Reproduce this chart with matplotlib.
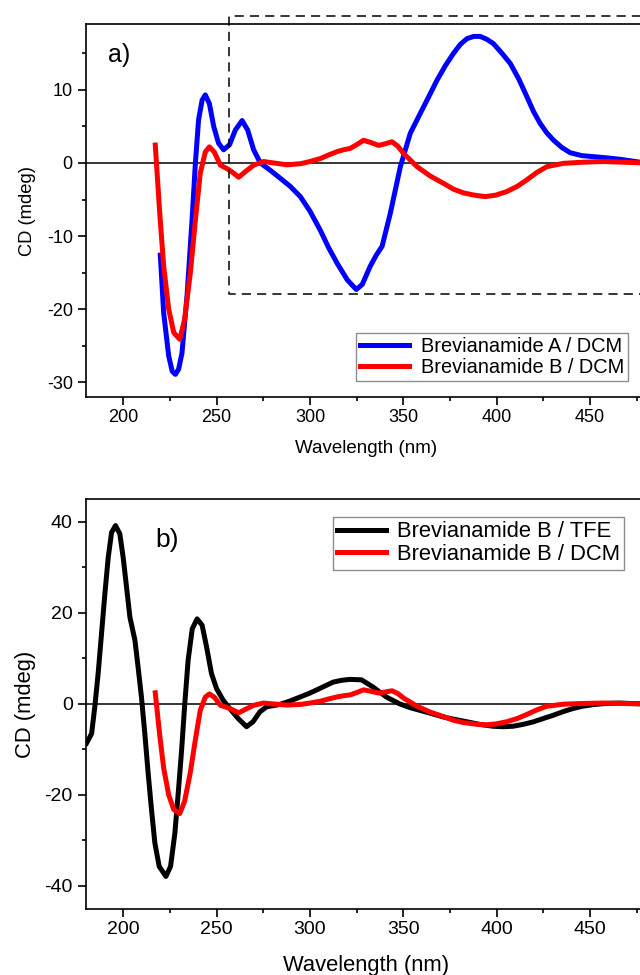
import numpy as np
import matplotlib
matplotlib.use('Agg')
from matplotlib import pyplot as plt

plt.rcParams['font.family'] = ['Liberation Sans', 'DejaVu Sans']
plt.rcParams['axes.unicode_minus'] = False

# Brevianamide A / DCM
wl_a = [219.8, 221.6, 224.3, 226.2, 227.9, 229.6, 231.4, 234.1, 236.8, 238.6, 240.3, 242.2,
        243.9, 246.1, 248.4, 251, 253.7, 256.9, 260, 263.6, 266.6, 269.8, 273.4, 278.7,
        284.1, 289.4, 294.8, 300, 305.5, 310, 314.5, 320, 324.8, 328, 332.3, 335.5, 338.6,
        343, 348.4, 353.7, 359.1, 363.5, 368, 372.5, 376.9, 380.5, 384.1, 387.7, 391.2,
        394.8, 398.3, 402.8, 407.3, 411.8, 416.2, 419.8, 423.3, 426.9, 430.5, 435, 439.4,
        445.6, 451.9, 459, 466.2, 471.5, 476.9, 480]
cd_a = [-12.6, -20.5, -26.4, -28.5, -28.9, -28.2, -26, -18.2, -7.8, 0, 5.9, 8.6,
        9.3, 8.1, 5.0, 2.7, 1.8, 2.5, 4.5, 5.8, 4.5, 1.8, 0, -1.0,
        -2.1, -3.2, -4.6, -6.6, -9.2, -11.6, -13.7, -16.0, -17.3, -16.6, -14.1, -12.6, -11.4,
        -6.9, -0.5, 4.05, 6.8, 9.0, 11.3, 13.3, 15.0, 16.2, 17.0, 17.3, 17.3,
        16.9, 16.3, 15.0, 13.6, 11.5, 9.05, 7.0, 5.4, 4.1, 3.1, 2.1, 1.4,
        1.0, 0.86, 0.7, 0.5, 0.3, 0.1, 0.05]

# Brevianamide B / DCM
wl_b_dcm = [217.1, 219.5, 221.6, 224.3, 227, 230.2, 232.8, 235.9, 238.6, 241.2, 243.9, 246.1,
            248.7, 252, 256.4, 259.1, 261.8, 265.3, 269.8, 275.1, 280.5, 287.7, 295, 300,
            305.5, 310, 314.5, 318, 321.6, 325, 328.7, 332.5, 336.7, 340, 343.9, 347, 350.1,
            357.3, 364.5, 371.6, 377, 382.3, 388, 393.9, 399.5, 405.5, 411, 416.2, 421.5,
            426.9, 435.8, 446, 457.3, 468, 480]
cd_b_dcm = [2.45, -6.9, -14.1, -20, -23.2, -24.1, -21.4, -15, -7.8, -1.4, 1.5, 2.2,
            1.5, -0.3, -0.9, -1.4, -1.95, -1.2, -0.3, 0.2, 0, -0.25, -0.1, 0.2,
            0.6, 1.1, 1.55, 1.8, 2.0, 2.5, 3.1, 2.8, 2.4, 2.6, 2.9, 2.3, 1.3,
            -0.5, -1.8, -2.8, -3.6, -4.1, -4.4, -4.6, -4.4, -3.9, -3.2, -2.3, -1.3,
            -0.5, -0.05, 0.1, 0.2, 0.1, 0]

# Brevianamide B / TFE
wl_b_tfe = [180.3, 181.1, 183, 184.7, 186.5, 188.3, 190.1, 191.9, 193.7, 195.8, 198.1, 199.9,
            201.7, 203.5, 206.2, 207.9, 209.7, 211.5, 213.3, 215.1, 216.9, 219.2, 222.8,
            225.3, 227.6, 229.4, 231.2, 232.9, 234.7, 236.9, 239.5, 242.2, 244.6, 247.2,
            249.9, 253.5, 257, 261.5, 266, 269.5, 273.1, 276.7, 283.8, 289, 294.5, 300,
            305.2, 312.4, 317, 321.3, 327.6, 333.8, 341, 348.1, 353.5, 358.8, 365, 371.3,
            377.5, 383.8, 391, 398.1, 403.5, 408.8, 414, 419.5, 425, 430.2, 435.5, 440.9,
            446, 451.6, 458, 465.9, 472, 480]
cd_b_tfe = [-8.6, -8.0, -6.5, -0.65, 6.7, 15.4, 24.2, 32.2, 37.7, 39.2, 37.4, 32.2,
            25.7, 19.1, 14, 8.1, 1.5, -6.5, -15.3, -23.3, -30.6, -35.7, -37.9,
            -35.7, -28.4, -19.6, -10.2, 0, 9.6, 16.5, 18.7, 17.3, 12.5, 6.7,
            3.4, 0.8, -1.0, -3.2, -5.0, -3.9, -1.75, -0.65, -0.1, 0.6, 1.5, 2.4,
            3.4, 4.8, 5.2, 5.4, 5.3, 3.7, 1.5, 0, -0.8, -1.4, -2.1, -2.85,
            -3.4, -3.9, -4.5, -4.9, -5.0, -4.9, -4.5, -3.95, -3.2, -2.5, -1.7, -1.0,
            -0.5, -0.15, 0.1, 0.2, 0.1, 0]

# dashed region in panel a (nm, mdeg)
box_x = [490, 256.6, 256.6, 490]
box_y = [20.1, 20.1, -17.9, -17.9]

fig = plt.figure(figsize=(6.4, 9.75), dpi=100)


def style_axes(ax, tick_size):
    for sp in ax.spines.values():
        sp.set_linewidth(1.2)
    ax.tick_params(which='both', direction='out', top=False, right=False, width=1.2,
                   labelsize=tick_size)
    ax.tick_params(which='major', length=5.5, pad=3)
    ax.tick_params(which='minor', length=3)
    ax.tick_params(axis='y', which='major', pad=4)
    ax.set_xlim(180, 480)
    ax.set_xticks([200, 250, 300, 350, 400, 450])
    ax.set_xticks(np.arange(225, 480, 50), minor=True)
    ax.axhline(0, color='black', lw=1.1, zorder=1)


lw = 3.6

ax1 = fig.add_axes([0.1344, 0.5928, 0.875, 0.3826])
style_axes(ax1, 13)
ax1.plot(wl_a, cd_a, color='#0000ff', lw=lw, label='Brevianamide A / DCM', solid_joinstyle='round')
ax1.plot(wl_b_dcm, cd_b_dcm, color='#ff0000', lw=lw, label='Brevianamide B / DCM', solid_joinstyle='round')
ax1.set_ylim(-32, 19)
ax1.set_yticks([-30, -20, -10, 0, 10])
ax1.set_yticks([-25, -15, -5, 5, 15], minor=True)
ax1.plot(box_x, box_y, color='black', lw=1.1, ls=(0, (6, 4)), clip_on=False)
ax1.text(0.039, 0.917, 'a)', transform=ax1.transAxes, fontsize=18, va='center', ha='left')
ax1.set_xlabel('Wavelength (nm)', fontsize=13.5)
ax1.set_ylabel('CD (mdeg)', fontsize=13.2)
ax1.xaxis.set_label_coords(0.5, -0.114)
ax1.yaxis.set_label_coords(-0.089, 0.5)
ax1.legend(loc='upper left', bbox_to_anchor=(355.7 / 640, 1 - 333 / 975),
           bbox_transform=fig.transFigure, borderaxespad=0, fontsize=14.4, fancybox=False,
           edgecolor='#8c8c8c', framealpha=1, handlelength=2.45, handletextpad=0.6,
           borderpad=0.2, labelspacing=0.08).get_frame().set_linewidth(1.0)

ax2 = fig.add_axes([0.1344, 0.068, 0.875, 0.42])
style_axes(ax2, 14)
ax2.plot(wl_b_tfe, cd_b_tfe, color='black', lw=lw, label='Brevianamide B / TFE', solid_joinstyle='round')
ax2.plot(wl_b_dcm, cd_b_dcm, color='#ff0000', lw=lw, label='Brevianamide B / DCM', solid_joinstyle='round')
ax2.set_ylim(-45, 45)
ax2.set_yticks([-40, -20, 0, 20, 40])
ax2.set_yticks([-30, -10, 10, 30], minor=True)
ax2.text(0.123, 0.90, 'b)', transform=ax2.transAxes, fontsize=19, va='center', ha='left')
ax2.set_xlabel('Wavelength (nm)', fontsize=15.8)
ax2.set_ylabel('CD (mdeg)', fontsize=15.8)
ax2.xaxis.set_label_coords(0.5, -0.112)
ax2.yaxis.set_label_coords(-0.089, 0.5)
ax2.legend(loc='upper left', bbox_to_anchor=(333 / 640, 1 - 517 / 975),
           bbox_transform=fig.transFigure, borderaxespad=0, fontsize=15.8, fancybox=False,
           edgecolor='#8c8c8c', framealpha=1, handlelength=2.2, handletextpad=0.5,
           borderpad=0.2, labelspacing=0.08).get_frame().set_linewidth(1.0)

fig.savefig('out.png', dpi=100)
